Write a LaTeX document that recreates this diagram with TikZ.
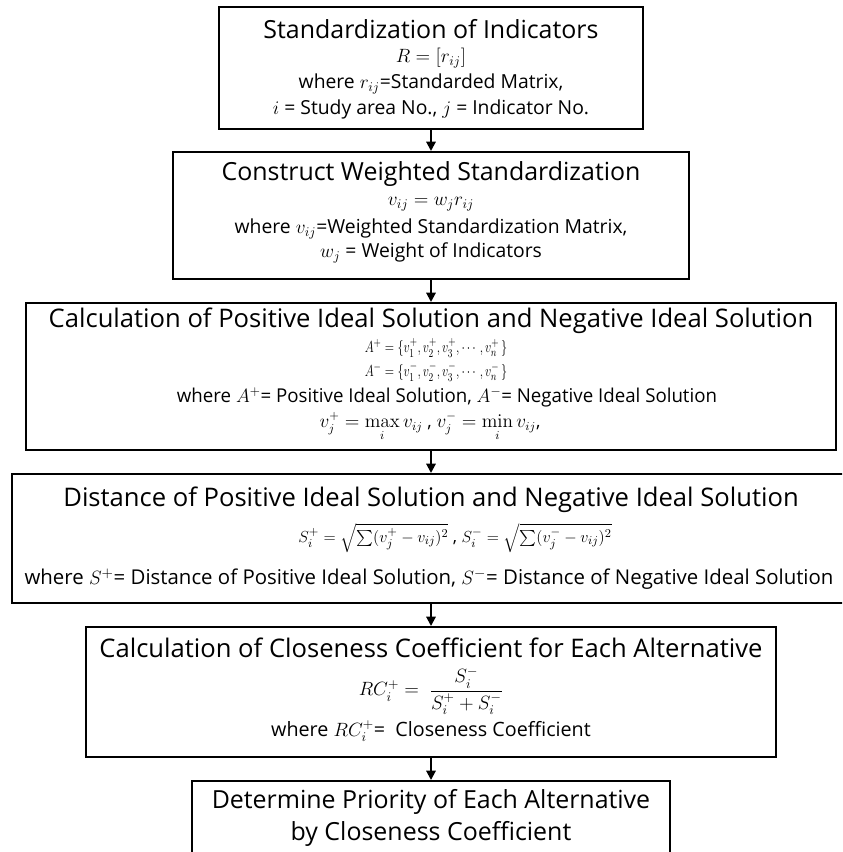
\documentclass[tikz,border=0pt]{standalone}
\usepackage{amsmath}
\usepackage[no-math]{fontspec}
\setmainfont{Open Sans}
\usetikzlibrary{arrows.meta}
\newcommand{\hsq}[2]{\scalebox{#1}[1]{#2}}
\begin{document}
\begin{tikzpicture}[x=0.75pt,y=-0.75pt,
  box/.style={draw, line width=1.5pt, inner sep=0pt},
  ttl/.style={inner sep=0pt, font=\fontsize{18.7}{21}\selectfont},
  ttlb/.style={inner sep=0pt, font=\fontsize{19.2}{21}\selectfont},
  txt/.style={inner sep=0pt, font=\fontsize{14.5}{16}\selectfont},
  arr/.style={line width=1.5pt, -{Triangle[length=7pt,width=7pt]}}]
\useasboundingbox (0,0) rectangle (842,852);
\begin{scope}
\clip (0,0) rectangle (842,852);
% boxes
\node[box, minimum width=318pt, minimum height=91.5pt] (b1) at (431,68) {};
\node[box, minimum width=387pt, minimum height=95.25pt] (b2) at (431,215.5) {};
\node[box, minimum width=607.5pt, minimum height=110.25pt] (b3) at (431,376.5) {};
\node[box, minimum width=628.5pt, minimum height=96.75pt] (b4) at (431,538.5) {};
\node[box, minimum width=517.5pt, minimum height=97.5pt] (b5) at (431,692) {};
\node[box, minimum width=358.5pt, minimum height=60pt] (b6) at (431,821) {};
% box 1
\node[ttl] (t1) at (431,29) {Standardization of Indicators};
\node[txt] (t1a) at (431,58) {$R=[r_{ij}]$};
\node[txt] (t1b) at (431,84) {where $r_{ij}$=Standarded Matrix,};
\node[txt] (t1c) at (431,109) {$i$ = Study area No., $j$ = Indicator No.};
% box 2
\node[ttl] (t2) at (431,174) {Construct Weighted Standardization};
\node[txt] (t2a) at (431,204) {$v_{ij}=w_j r_{ij}$};
\node[txt] (t2b) at (431,229) {where $v_{ij}$=Weighted Standardization Matrix,};
\node[txt] (t2c) at (431,253) {$w_j$ = Weight of Indicators};
% box 3
\node[ttlb] (t3) at (431,321) {Calculation of Positive Ideal Solution and Negative Ideal Solution};
\node[txt, font=\fontsize{12.8}{14}\selectfont] (t3a) at (436,348) {\hsq{0.76}{$A^{+}=\{v_1^{+},v_2^{+},v_3^{+},\cdots,v_n^{+}\,\}$}};
\node[txt, font=\fontsize{12.8}{14}\selectfont] (t3b) at (436,372) {\hsq{0.76}{$A^{-}=\{v_1^{-},v_2^{-},v_3^{-},\cdots,v_n^{-}\,\}$}};
\node[txt, font=\fontsize{14.3}{16}\selectfont] (t3c) at (447,397) {\hsq{0.98}{where $A^{+}$= Positive Ideal Solution, $A^{-}$= Negative Ideal Solution}};
\node[txt, font=\fontsize{13.5}{15}\selectfont] (t3d) at (430,427) {$v_j^{+}=\max\limits_i v_{ij}$ , $v_j^{-}=\min\limits_i v_{ij}$,};
% box 4
\node[ttlb] (t4) at (431,500) {Distance of Positive Ideal Solution and Negative Ideal Solution};
\node[txt, font=\fontsize{13}{15}\selectfont] (t4a) at (455,538) {$S_i^{+}=\sqrt{\sum(v_j^{+}-v_{ij})^2}$ , $S_i^{-}=\sqrt{\sum(v_j^{-}-v_{ij})^2}$};
\node[txt, font=\fontsize{15.3}{16}\selectfont] (t4b) at (429,579) {where $S^{+}$= Distance of Positive Ideal Solution, $S^{-}$= Distance of Negative Ideal Solution};
% box 5
\node[ttlb] (t5) at (431,648) {Calculation of Closeness Coefficient for Each Alternative};
\node[txt] (t5a) at (431,691) {$RC_i^{+}=\ \dfrac{S_i^{-}}{S_i^{+}+S_i^{-}}$};
\node[txt, font=\fontsize{14.8}{16}\selectfont] (t5b) at (431,731) {where $RC_i^{+}$= \ Closeness Coefficient};
% box 6
\node[ttl] (t6) at (431,802) {Determine Priority of Each Alternative};
\node[ttl] (t6a) at (431,834) {by Closeness Coefficient};
% connectors
\draw[arr] (b1.south) -- (b2.north);
\draw[arr] (b2.south) -- (b3.north);
\draw[arr] (b3.south) -- (b4.north);
\draw[arr] (b4.south) -- (b5.north);
\draw[arr] (b5.south) -- (b6.north);
\end{scope}
\end{tikzpicture}
\end{document}
